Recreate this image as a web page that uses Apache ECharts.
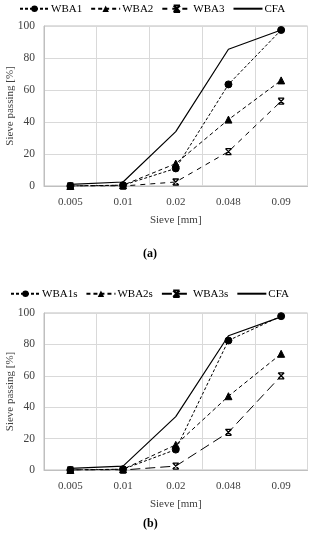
<!DOCTYPE html>
<html>
<head>
<meta charset="utf-8">
<script src="https://cdn.jsdelivr.net/npm/echarts@6/dist/echarts.min.js"></script>
<style>html,body{margin:0;padding:0;background:#fff}#c{width:314px;height:550px}</style>
</head>
<body>
<div id="c"></div>
<script>
const categories = ['0.005', '0.01', '0.02', '0.048', '0.09'];
const yTicks = [0, 20, 40, 60, 80, 100];
// Panel (a)
const wba1 = [0, 0.5, 11, 63.5, 97.5];
const wba2 = [0, 0.5, 14, 41.5, 66];
const wba3 = [0, 0, 2.5, 21.5, 53];
const cfa = [1, 2.5, 34, 85.5, 97.5];
// Panel (b)
const wba1s = [0, 0.5, 13, 82.5, 98];
const wba2s = [0, 0.5, 16, 47, 74];
const wba3s = [0, 0, 2.5, 24, 60];
const cfaB = [1, 2.5, 34, 85.5, 97.5];

const FONT = '"Liberation Serif", "DejaVu Serif", serif';
const TXT = '#404040';
const xMark = 'path://M0,0 L10,0 M0,10 L10,10 M0,0 L10,10 M10,0 L0,10';

function xAxis(idx) {
  return {
    gridIndex: idx, type: 'category', data: categories, boundaryGap: true,
    name: 'Sieve [mm]', nameLocation: 'middle', nameGap: 29, nameMoveOverlap: false,
    nameTextStyle: { fontFamily: FONT, fontSize: 11, color: TXT },
    axisLine: { lineStyle: { color: '#bfbfbf' } }, axisTick: { show: false },
    axisLabel: { fontFamily: FONT, fontSize: 11, color: TXT, margin: 11 },
    splitLine: { show: true, lineStyle: { color: '#d9d9d9' } }
  };
}
function yAxis(idx) {
  return {
    gridIndex: idx, type: 'value', min: yTicks[0], max: yTicks[yTicks.length - 1], interval: 20,
    name: 'Sieve passing [%]', nameLocation: 'middle', nameGap: 28, nameMoveOverlap: false,
    nameTextStyle: { fontFamily: FONT, fontSize: 11, color: TXT },
    axisLine: { show: true, lineStyle: { color: '#bfbfbf' } }, axisTick: { show: false },
    axisLabel: { fontFamily: FONT, fontSize: 11.5, color: TXT, margin: 9 },
    splitLine: { lineStyle: { color: '#d9d9d9' } }
  };
}
function line(name, data, idx, dash, symbol, size, width) {
  const isPath = symbol.startsWith('path://');
  return {
    name, type: 'line', data, xAxisIndex: idx, yAxisIndex: idx,
    symbol, symbolSize: size, showSymbol: size > 0,
    lineStyle: { color: '#000', width: width || 1, type: dash },
    itemStyle: isPath ? { color: 'none', borderColor: '#000', borderWidth: 1.3 } : { color: '#000', borderColor: '#000' },
    emphasis: { disabled: true }, animation: false
  };
}
const noSym = { color: 'rgba(0,0,0,0)', borderColor: 'rgba(0,0,0,0)', opacity: 0 };
const legendCommon = {
  itemWidth: 29, itemHeight: 8, itemGap: 8, padding: 0, width: 310,
  textStyle: { fontFamily: FONT, fontSize: 11, color: '#000', padding: [0, 0, 0, -3] }
};
const chart = echarts.init(document.getElementById('c'));
chart.setOption({
  animation: false,
  legend: [
    Object.assign({ left: 19, top: 3, data: ['WBA1', 'WBA2', 'WBA3', { name: 'CFA', itemStyle: noSym }] }, legendCommon),
    Object.assign({ left: 10, top: 288, data: ['WBA1s', 'WBA2s', 'WBA3s', { name: 'CFA ', itemStyle: noSym }] }, legendCommon)
  ],
  grid: [
    { left: 44, right: 6.5, top: 26, height: 160, show: true, borderColor: '#bfbfbf', borderWidth: 1, outerBoundsMode: 'none', containLabel: false },
    { left: 44, right: 6.5, top: 313, height: 157, show: true, borderColor: '#bfbfbf', borderWidth: 1, outerBoundsMode: 'none', containLabel: false }
  ],
  xAxis: [xAxis(0), xAxis(1)],
  yAxis: [yAxis(0), yAxis(1)],
  series: [
    line('WBA1', wba1, 0, [3, 2], 'circle', 7),
    line('WBA2', wba2, 0, [4, 3], 'triangle', 7),
    line('WBA3', wba3, 0, [5, 5], xMark, 6),
    line('CFA', cfa, 0, 'solid', 'circle', 0, 1.2),
    line('WBA1s', wba1s, 1, [3, 2], 'circle', 7),
    line('WBA2s', wba2s, 1, [4, 3], 'triangle', 7),
    line('WBA3s', wba3s, 1, [10, 5], xMark, 6),
    line('CFA ', cfaB, 1, 'solid', 'circle', 0, 1.2)
  ],
  graphic: [
    { type: 'text', left: 143, top: 248, style: { text: '(a)', font: 'bold 12px ' + FONT, fill: '#000' } },
    { type: 'text', left: 143, top: 518, style: { text: '(b)', font: 'bold 12px ' + FONT, fill: '#000' } }
  ]
});
</script>
</body>
</html>
